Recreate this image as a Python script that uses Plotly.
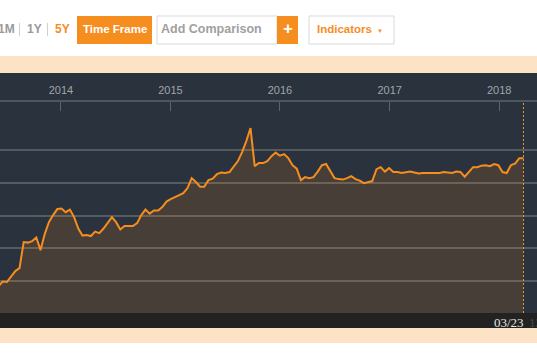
import pandas as pd
import plotly.graph_objects as go

# ---- data ----
last_date = "2018-03-23"
dates = pd.date_range(end=last_date, periods=126, freq="14D")
values = [
    96.9, 99.7, 99.4, 103.1, 106.1, 107.9, 123.8, 123.5, 124.4, 126.6,
    118.9, 128.7, 136.0, 140.3, 144.0, 144.3, 142.1, 143.7, 139.1, 132.1,
    127.8, 128.1, 127.5, 130.2, 129.3, 132.1, 135.4, 139.1, 136.0, 131.5,
    133.6, 133.6, 133.6, 135.4, 140.3, 143.7, 141.2, 143.1, 143.1, 145.2,
    148.6, 150.1, 151.3, 152.2, 153.7, 156.8, 162.9, 160.5, 157.7, 157.7,
    161.7, 162.6, 165.3, 166.3, 166.0, 166.6, 169.6, 173.3, 178.8, 185.5,
    193.5, 170.2, 172.1, 172.1, 173.3, 176.3, 178.5, 176.6, 177.6, 175.1,
    170.8, 168.7, 161.7, 163.5, 162.9, 163.5, 166.9, 170.8, 171.5, 167.5,
    162.9, 162.3, 162.0, 162.9, 164.1, 162.3, 161.4, 159.8, 160.5, 161.1,
    168.4, 169.6, 166.9, 169.0, 166.6, 166.6, 166.0, 166.6, 166.9, 166.3,
    165.7, 166.0, 166.0, 166.0, 166.0, 166.0, 166.6, 166.3, 166.0, 166.9,
    166.6, 163.8, 166.6, 169.6, 169.6, 170.5, 170.8, 170.2, 171.5, 170.8,
    166.6, 166.0, 170.8, 171.8, 175.1, 175.1,
]
year_ticks = ["2014-01-01", "2015-01-01", "2016-01-01", "2017-01-01", "2018-01-01"]
year_labels = ["2014", "2015", "2016", "2017", "2018"]
grid_levels = [100, 120, 140, 160, 180]
x_range = ["2013-06-12", "2018-05-07"]
y_range = [80.5, 209.4]

# ---- styling ----
W, H = 537, 360
PLOT_TOP, PLOT_BOT = 102, 313
ORANGE = "#f68d1f"
DARK = "#29323d"


def px(x):
    return x / W


def py(y):
    return (PLOT_BOT - y) / (PLOT_BOT - PLOT_TOP)


fig = go.Figure()
fig.add_trace(go.Scatter(
    x=dates, y=values, mode="lines",
    line=dict(color=ORANGE, width=2),
    fill="tozeroy", fillcolor="rgba(250,140,30,0.15)",
    hoverinfo="skip", showlegend=False,
))

shapes = []


def rect(x0, y0, x1, y1, fill, line=None, layer="above"):
    shapes.append(dict(
        type="rect", xref="paper", yref="paper",
        x0=px(x0), x1=px(x1), y0=py(y0), y1=py(y1),
        fillcolor=fill, line=dict(color=line or fill, width=1 if line else 0),
        layer=layer,
    ))


# bands around the chart
rect(-2, 56, W + 2, 73, "#fde3c6")
rect(-2, 73, W + 2, PLOT_TOP, DARK, layer="below")
rect(-2, PLOT_BOT, W + 2, 328, "#222222")
rect(-2, 328, W + 2, 343, "#fde3c6")
# toolbar
rect(77, 16, 152, 44, ORANGE)
rect(157, 16, 277, 44, "#ffffff", "#d9d9d9")
rect(277, 16, 298, 44, ORANGE)
rect(309, 16, 394, 44, "#ffffff", "#d9d9d9")
# separators
for sx in (19.5, 47.5):
    shapes.append(dict(type="line", xref="paper", yref="paper",
                       x0=px(sx), x1=px(sx), y0=py(23), y1=py(36),
                       line=dict(color="#d0d0d0", width=1)))
# last-date marker
shapes.append(dict(type="line", xref="x", yref="paper",
                   x0=last_date, x1=last_date, y0=0, y1=1,
                   line=dict(color="#e89a2c", width=1, dash="2px,2px")))

ann = []


def text(x, y, s, color, size, family="Liberation Sans", bold=False, xanchor="center"):
    ann.append(dict(
        xref="paper", yref="paper", x=px(x), y=py(y), text=f"<b>{s}</b>" if bold else s,
        showarrow=False, xanchor=xanchor, yanchor="middle",
        font=dict(color=color, size=size, family=family),
    ))


text(6, 29, "1M", "#9a9a9a", 12, bold=True)
text(34, 29, "1Y", "#9a9a9a", 12, bold=True)
text(62, 29, "5Y", ORANGE, 12, bold=True)
text(114.5, 29, "Time Frame", "#ffffff", 11.5, bold=True)
text(211, 29, "Add Comparison", "#a0a0a0", 12.5, bold=True)
text(287.5, 28.5, "+", "#ffffff", 17, bold=True)
text(344.5, 29, "Indicators", ORANGE, 11.5, bold=True)
text(380, 30.5, "▼", ORANGE, 6)
text(508.5, 322, pd.Timestamp(last_date).strftime("%m/%d"), "#e6e6e6", 13,
     family="Liberation Serif")
text(527, 322, "13,", "#4a4a4a", 13, family="Liberation Serif", xanchor="left")

fig.update_layout(
    width=W, height=H,
    margin=dict(l=0, r=0, t=PLOT_TOP, b=H - PLOT_BOT, pad=0),
    paper_bgcolor="#ffffff", plot_bgcolor=DARK,
    shapes=shapes, annotations=ann,
    xaxis=dict(
        type="date", range=x_range, side="top",
        tickvals=year_ticks, ticktext=year_labels,
        ticks="inside", ticklen=9, tickwidth=1, tickcolor="#5c636b",
        showline=True, linecolor="#4f565e", linewidth=2,
        showgrid=False, zeroline=False,
        tickfont=dict(color="#a0a5aa", size=11, family="Liberation Sans"),
        ticklabelstandoff=2,
    ),
    yaxis=dict(
        range=y_range, tickvals=grid_levels, showticklabels=False,
        showgrid=True, gridcolor="#565b61", gridwidth=1.5,
        zeroline=False, showline=False, ticks="",
    ),
)

fig.write_html(
    "out.html",
    config={"displayModeBar": False},
    post_script="document.body.style.margin='0';document.body.style.overflow='hidden';",
)
